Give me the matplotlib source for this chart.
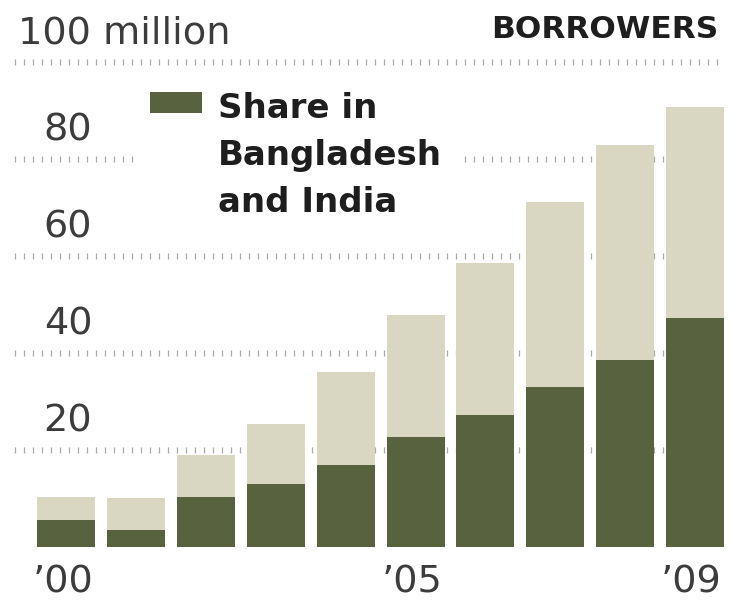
import numpy as np
import matplotlib
matplotlib.use("Agg")
import matplotlib.pyplot as plt
from matplotlib.transforms import blended_transform_factory
from matplotlib.patches import Rectangle

# Microfinance borrowers, millions
years = [2000, 2001, 2002, 2003, 2004, 2005, 2006, 2007, 2008, 2009]
total_borrowers = [10.3, 10.1, 19.0, 25.4, 36.1, 47.8, 58.6, 71.1, 82.9, 90.7]
share_bangladesh_india = [5.6, 3.5, 10.3, 13.0, 16.9, 22.7, 27.2, 33.0, 38.6, 47.2]

grid_values = [20, 40, 60, 80, 100]
grid_labels = ["20", "40", "60", "80", "100 million"]
tick_years = [2000, 2005, 2009]
legend_lines = ["Share in", "Bangladesh", "and India"]
title_text = "BORROWERS"

DARK = "#59623f"
LIGHT = "#d9d7c2"
TEXT = "#3c3c3c"
GRID = "#a9a9a9"

fig = plt.figure(figsize=(7.32, 6.02), dpi=100, facecolor="white")
ax = fig.add_axes([0, 0, 1, 1])
ax.set_xlim(-0.95, 9.53)
ax.set_ylim(-11.3, 112.8)
ax.axis("off")

# x in figure fraction, y in data units
fy = blended_transform_factory(fig.transFigure, ax.transData)

# dotted gridlines made of short vertical ticks
xs = np.arange(15, 726, 9) / 732
for g in grid_values:
    ax.plot(xs, np.full_like(xs, g), transform=fy, ls="none", marker="|",
            ms=4.6, mew=0.9, color=GRID, zorder=1)

# stacked bars
idx = np.arange(len(years))
share = np.array(share_bangladesh_india)
other = np.array(total_borrowers) - share
ax.bar(idx, share, width=0.83, color=DARK, zorder=3)
ax.bar(idx, other, bottom=share, width=0.83, color=LIGHT, zorder=3)

# gridline labels sit above their lines
for g, lab in zip(grid_values, grid_labels):
    if " " in lab:
        ax.text(0.025, g + 3.8, lab, transform=fy, ha="left", va="baseline",
                fontsize=27.5, color=TEXT, family="DejaVu Sans")
    else:
        ax.text(0.126, g + 3.8, lab, transform=fy, ha="right", va="baseline",
                fontsize=27.5, color=TEXT, family="DejaVu Sans")

# year labels under selected bars
for y in tick_years:
    i = years.index(y)
    ax.text(i - 0.05, -9.3, "\u2019%02d" % (y % 100), ha="center", va="baseline",
            fontsize=27.5, color=TEXT, family="DejaVu Sans")

ax.text(0.981, 104.9, title_text, transform=fy, ha="right", va="baseline",
        fontsize=22.5, fontweight="bold", color="#1e1e1e", family="DejaVu Sans")

# legend: white backing, swatch and label
ax.add_patch(Rectangle((0.189, 65.4), 0.442, 29.9, transform=fy,
                       facecolor="white", edgecolor="none", zorder=2))
ax.add_patch(Rectangle((0.205, 89.5), 0.071, 4.3, transform=fy,
                       facecolor=DARK, edgecolor="none", zorder=4))
for k, line in enumerate(legend_lines):
    ax.text(0.298, 88.5 - 9.7 * k, line, transform=fy, ha="left", va="baseline",
            fontsize=24.5, fontweight="bold", color="#1e1e1e",
            family="DejaVu Sans", zorder=5)

fig.savefig("out.png", dpi=100, facecolor="white")
